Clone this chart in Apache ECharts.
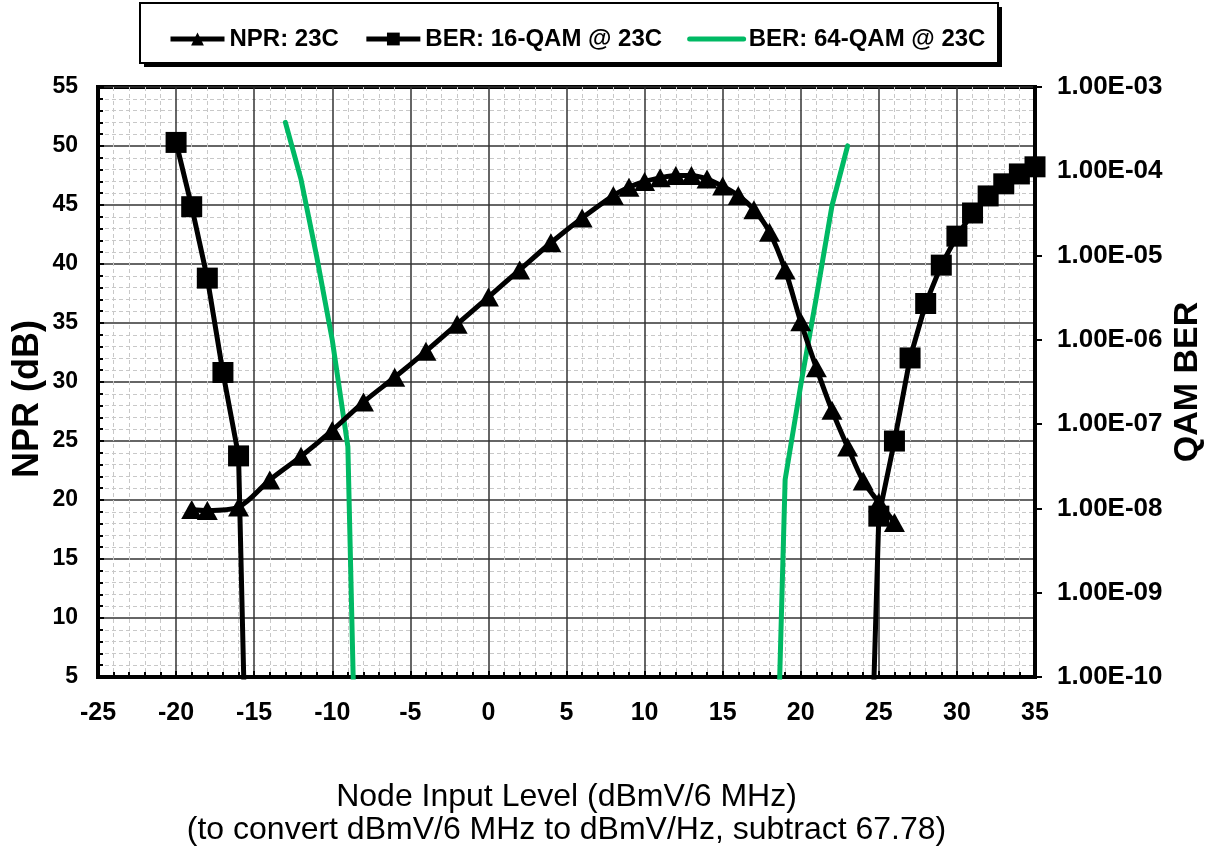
<!DOCTYPE html>
<html>
<head>
<meta charset="utf-8">
<script src="https://cdn.jsdelivr.net/npm/echarts@6/dist/echarts.min.js"></script>
<style>
  html, body { margin: 0; padding: 0; background: #fff; }
  #chart { width: 1212px; height: 850px; }
</style>
</head>
<body>
<div id="chart"></div>
<script>
// Node input level sweep (dBmV/6 MHz)
const nprLevels = [-19, -18, -16, -14, -12, -10, -8, -6, -4, -2, 0, 2, 4, 6, 8, 9, 10, 11, 12, 13, 14, 15, 16, 17, 18, 19, 20, 21, 22, 23, 24, 25, 26];
const nprValues = [19.2, 19.1, 19.4, 21.7, 23.7, 25.9, 28.3, 30.4, 32.6, 34.9, 37.2, 39.5, 41.8, 43.9, 45.8, 46.5, 47.0, 47.3, 47.5, 47.5, 47.2, 46.6, 45.8, 44.6, 42.7, 39.5, 35.1, 31.2, 27.6, 24.5, 21.6, 19.8, 18.1];

// 16-QAM BER, low-level and high-level branches
const ber16LowLevels = [-20, -19, -18, -17, -16, -15];
const ber16LowValues = [2.2e-4, 3.8e-5, 5.4e-6, 4.1e-7, 4.2e-8, 5e-16];
const ber16HighLevels = [24, 25, 26, 27, 28, 29, 30, 31, 32, 33, 34, 35];
const ber16HighValues = [5e-15, 8.1e-9, 6.3e-8, 6.1e-7, 2.7e-6, 7.7e-6, 1.7e-5, 3.2e-5, 5.1e-5, 7.1e-5, 9.3e-5, 1.13e-4];

// 64-QAM BER, low-level and high-level branches
const ber64LowLevels = [-13, -12, -11, -10, -9, -8];
const ber64LowValues = [3.8e-4, 8e-5, 9.8e-6, 1.0e-6, 5.4e-8, 5e-16];
const ber64HighLevels = [18, 19, 20, 21, 22, 23];
const ber64HighValues = [4e-15, 2.2e-8, 2.9e-7, 3.2e-6, 3.9e-5, 2.0e-4];

// BER reference threshold
const berThreshold = 1e-6;

// Right-axis tick labels, indexed by decade exponent
const berTickExponents = [-10, -9, -8, -7, -6, -5, -4, -3];
const berTickLabels = ['1.00E-10', '1.00E-09', '1.00E-08', '1.00E-07', '1.00E-06', '1.00E-05', '1.00E-04', '1.00E-03'];

const seriesNames = ['NPR: 23C', 'BER: 16-QAM @ 23C', 'BER: 64-QAM @ 23C'];

const FONT = 'Liberation Sans, Arial, Helvetica, sans-serif';
const GAP = ['-', '-'];
const GREEN = '#00b964';

function pairs(xs, ys) { return xs.map((x, i) => [x, ys[i]]); }

const chart = echarts.init(document.getElementById('chart'), null, { renderer: 'canvas' });

const option = {
  animation: false,
  backgroundColor: '#fff',
  textStyle: { fontFamily: FONT, color: '#000' },
  graphic: [
    { type: 'rect', z: 0, shape: { x: 144, y: 7, width: 858, height: 60 }, style: { fill: '#000' } },
    { type: 'rect', z: 1, shape: { x: 140, y: 3, width: 858, height: 60 }, style: { fill: '#fff', stroke: '#000', lineWidth: 2 } }
  ],
  legend: {
    z: 10,
    left: 163,
    top: 22,
    itemWidth: 54,
    itemHeight: 16,
    itemGap: 25,
    lineStyle: { width: 5 },
    data: [
      { name: seriesNames[0] },
      { name: seriesNames[1] },
      { name: seriesNames[2], itemStyle: { opacity: 0 } }
    ],
    textStyle: { fontFamily: FONT, fontSize: 24, fontWeight: 'bold', color: '#000' }
  },
  grid: {
    left: 98, right: 177, top: 87, bottom: 173,
    containLabel: false, outerBoundsMode: 'none',
    show: true, borderColor: '#000', borderWidth: 4, backgroundColor: 'transparent'
  },
  xAxis: {
    type: 'value', min: -25, max: 35, interval: 5,
    name: 'Node Input Level (dBmV/6 MHz)\n(to convert dBmV/6 MHz to dBmV/Hz, subtract 67.78)',
    nameLocation: 'middle', nameGap: 104, nameMoveOverlap: false,
    nameTextStyle: { fontFamily: FONT, fontSize: 32, fontWeight: 'normal', color: '#000', lineHeight: 33 },
    axisLine: { show: true, onZero: false, lineStyle: { color: '#000', width: 4 } },
    axisTick: { show: true, inside: true, length: 6, lineStyle: { color: '#000', width: 2 } },
    minorTick: { show: true, splitNumber: 5, length: 5, lineStyle: { color: '#000', width: 2 } },
    axisLabel: { fontFamily: FONT, fontSize: 25, fontWeight: 'bold', color: '#000', margin: 24 },
    splitLine: { show: true, lineStyle: { color: '#333', width: 1.5 } },
    minorSplitLine: { show: true, lineStyle: { color: '#c8c8c8', width: 1, type: [4, 3] } }
  },
  yAxis: [
    {
      type: 'value', min: 5, max: 55, interval: 5, position: 'left',
      name: 'NPR (dB)', nameLocation: 'middle', nameGap: 52, nameRotate: 90, nameMoveOverlap: false,
      nameTextStyle: { fontFamily: FONT, fontSize: 36, fontWeight: 'bold', color: '#000', padding: [0, 34, 0, 0] },
      axisLine: { show: true, onZero: false, lineStyle: { color: '#000', width: 4 } },
      axisTick: { show: true, inside: true, length: 6, lineStyle: { color: '#000', width: 2 } },
      minorTick: { show: true, splitNumber: 5, length: 5, lineStyle: { color: '#000', width: 2 } },
      axisLabel: { fontFamily: FONT, fontSize: 23, fontWeight: 'bold', color: '#000', margin: 20 },
      splitLine: { show: true, lineStyle: { color: '#333', width: 1.5 } },
      minorSplitLine: { show: true, lineStyle: { color: '#c8c8c8', width: 1, type: [4, 3] } }
    },
    {
      type: 'log', logBase: 10, min: 1e-10, max: 1e-3, interval: 1, position: 'right',
      name: 'QAM BER', nameLocation: 'middle', nameGap: 136, nameRotate: 90, nameMoveOverlap: false,
      nameTextStyle: { fontFamily: FONT, fontSize: 34, fontWeight: 'bold', color: '#000' },
      axisLine: { show: true, onZero: false, lineStyle: { color: '#000', width: 4 } },
      axisTick: { show: true, inside: false, length: 7, lineStyle: { color: '#000', width: 2 } },
      axisLabel: {
        fontFamily: FONT, fontSize: 26, fontWeight: 'bold', color: '#000', margin: 22,
        formatter: function (v) {
          const e = Math.round(Math.log10(v));
          const i = berTickExponents.indexOf(e);
          return i >= 0 ? berTickLabels[i] : '';
        }
      },
      splitLine: { show: false }
    }
  ],
  series: [
    {
      name: seriesNames[0], type: 'line', yAxisIndex: 0,
      data: pairs(nprLevels, nprValues),
      smooth: 0.3,
      symbol: 'triangle', symbolSize: [21, 19],
      lineStyle: { color: '#000', width: 5 },
      itemStyle: { color: '#000' },
      z: 3
    },
    {
      name: seriesNames[1], type: 'line', yAxisIndex: 1,
      data: pairs(ber16LowLevels, ber16LowValues).concat([GAP], pairs(ber16HighLevels, ber16HighValues)),
      connectNulls: false,
      symbol: 'rect', symbolSize: 21,
      lineStyle: { color: '#000', width: 5 },
      itemStyle: { color: '#000' },
      z: 3
    },
    {
      name: seriesNames[2], type: 'line', yAxisIndex: 1,
      data: pairs(ber64LowLevels, ber64LowValues).concat([GAP], pairs(ber64HighLevels, ber64HighValues)),
      connectNulls: false,
      showSymbol: false, symbol: 'none',
      lineStyle: { color: GREEN, width: 5, cap: 'round' },
      itemStyle: { color: GREEN },
      z: 2,
      markLine: {
        silent: true, symbol: 'none', label: { show: false },
        lineStyle: { color: '#ff8000', width: 2, type: 'solid' },
        data: [{ yAxis: berThreshold }]
      }
    }
  ]
};

chart.setOption(option);
</script>
</body>
</html>
